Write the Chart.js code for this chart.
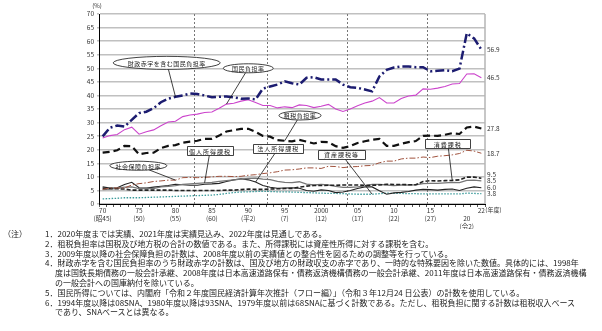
<!DOCTYPE html>
<html lang="ja">
<head>
  <meta charset="UTF-8">
  <title>国民負担率の推移</title>
  <script src="https://cdn.jsdelivr.net/npm/chart.js"></script>
  <style>
    body { margin: 0; background: #fff; width: 602px; height: 331px; position: relative; overflow: hidden;
           font-family: "Noto Sans CJK JP", sans-serif; }
    #burden { position: absolute; left: 0; top: 0; }
    .note { position: absolute; font-size: 8px; line-height: 10px; color: #222; white-space: nowrap; }
  </style>
</head>
<body>
  <canvas id="burden" width="602" height="229"></canvas>

  <div class="note" style="left:3px;top:229px">（注）</div>
  <div class="note" style="left:45px;top:229px">1．2020年度までは実績、2021年度は実績見込み、2022年度は見通しである。</div>
  <div class="note" style="left:45px;top:239px">2．租税負担率は国税及び地方税の合計の数値である。また、所得課税には資産性所得に対する課税を含む。</div>
  <div class="note" style="left:45px;top:248.6px">3．2009年度以降の社会保障負担の計数は、2008年度以前の実績値との整合性を図るための調整等を行っている。</div>
  <div class="note" style="left:45px;top:258.4px">4．財政赤字を含む国民負担率のうち財政赤字の計数は、国及び地方の財政収支の赤字であり、一時的な特殊要因を除いた数値。具体的には、1998年</div>
  <div class="note" style="left:55px;top:268px">度は国鉄長期債務の一般会計承継、2008年度は日本高速道路保有・債務返済機構債務の一般会計承継、2011年度は日本高速道路保有・債務返済機構</div>
  <div class="note" style="left:55px;top:278px">の一般会計への国庫納付を除いている。</div>
  <div class="note" style="left:45px;top:287.8px">5．国民所得については、内閣府「令和２年度国民経済計算年次推計（フロー編）」（令和３年12月24 日公表）の計数を使用している。</div>
  <div class="note" style="left:45px;top:297.6px">6．1994年度以降は08SNA、1980年度以降は93SNA、1979年度以前は68SNAに基づく計数である。ただし、租税負担に関する計数は租税収入ベース</div>
  <div class="note" style="left:55px;top:307.4px">であり、SNAベースとは異なる。</div>

  <script>
    // fiscal years on the category axis
    const years = [1970, 1971, 1972, 1973, 1974, 1975, 1976, 1977, 1978, 1979,
                   1980, 1981, 1982, 1983, 1984, 1985, 1986, 1987, 1988, 1989,
                   1990, 1991, 1992, 1993, 1994, 1995, 1996, 1997, 1998, 1999,
                   2000, 2001, 2002, 2003, 2004, 2005, 2006, 2007, 2008, 2009,
                   2010, 2011, 2012, 2013, 2014, 2015, 2016, 2017, 2018, 2019,
                   2020, 2021, 2022];

    // labelled years: short year on top, Japanese era below
    const tickYears = [1970, 1975, 1980, 1985, 1990, 1995, 2000, 2005, 2010, 2015, 2020, 2022];
    const tickNames = ['70', '75', '80', '85', '90', '95', '2000', '05', '10', '15', '20', '22'];
    const eraNames  = ['(昭45)', '(50)', '(55)', '(60)', '(平2)', '(7)', '(12)', '(17)', '(22)', '(27)', '(令2)', ''];

    // dotted dividers drawn at the start of these years
    const dividerYears = [1983, 1993, 2004, 2015];

    // ratios to national income (%)
    const burdenWithDeficit = [24.9, 28.1, 28.9, 28.5, 31.0, 33.5, 34.0, 35.3, 37.5, 38.8,
                               39.5, 40.0, 40.7, 40.5, 40.0, 39.3, 39.5, 39.6, 39.3, 38.8,
                               38.9, 38.5, 42.5, 43.3, 44.0, 45.2, 44.5, 44.0, 46.5, 46.7,
                               45.9, 45.9, 45.9, 44.0, 43.0, 42.8, 42.2, 41.5, 47.0, 49.4,
                               50.3, 50.7, 50.7, 50.4, 50.4, 48.9, 49.1, 49.3, 48.9, 49.9,
                               62.9, 61.0, 56.9];
    const nationalBurden = [24.3, 25.2, 25.6, 27.4, 28.3, 25.7, 26.6, 27.3, 28.8, 30.2,
                            30.5, 32.2, 32.8, 33.1, 33.7, 33.9, 35.3, 36.8, 37.1, 37.9,
                            38.4, 37.4, 36.3, 36.3, 35.4, 35.8, 35.5, 36.5, 36.3, 35.5,
                            36.0, 36.7, 35.0, 34.1, 35.0, 36.2, 37.2, 37.9, 39.2, 37.2,
                            37.2, 38.9, 39.8, 40.1, 42.4, 42.3, 42.7, 43.3, 44.2, 44.4,
                            47.9, 48.0, 46.5];
    const taxBurden = [18.9, 19.2, 19.8, 21.4, 21.3, 18.3, 18.8, 18.9, 20.6, 21.4,
                       21.7, 22.6, 23.0, 23.3, 24.0, 24.0, 25.2, 26.7, 27.2, 27.7,
                       27.7, 26.6, 25.1, 24.8, 23.5, 23.3, 23.1, 23.6, 23.0, 22.3,
                       22.9, 22.8, 21.3, 20.7, 21.3, 22.5, 23.1, 23.7, 24.0, 21.4,
                       21.4, 22.2, 22.8, 23.2, 25.1, 25.2, 25.1, 25.5, 26.1, 25.8,
                       28.2, 28.5, 27.8];
    const socialBurden = [5.4, 5.9, 5.9, 5.9, 7.0, 7.5, 7.8, 8.3, 8.5, 8.8,
                          8.8, 9.7, 9.8, 9.7, 9.8, 10.0, 10.2, 10.2, 10.1, 10.2,
                          10.6, 10.8, 11.2, 11.5, 11.9, 12.5, 12.6, 12.9, 13.3, 13.3,
                          13.1, 13.9, 13.8, 13.4, 13.7, 13.8, 14.1, 14.2, 15.2, 15.8,
                          15.8, 16.6, 16.9, 16.9, 17.3, 17.1, 17.6, 17.8, 18.1, 18.6,
                          19.8, 19.5, 18.7];
    const personalIncomeTax = [5.3, 5.5, 5.8, 6.2, 6.3, 5.7, 5.8, 5.7, 6.3, 6.5,
                               6.8, 7.2, 7.4, 7.6, 7.8, 8.0, 8.3, 8.6, 8.9, 9.2,
                               9.4, 9.5, 9.2, 9.0, 8.3, 8.0, 7.9, 8.2, 7.3, 7.0,
                               7.2, 7.0, 6.5, 6.1, 6.1, 6.3, 6.6, 7.2, 7.2, 7.0,
                               6.8, 7.0, 7.0, 7.1, 7.5, 7.6, 7.6, 7.8, 8.0, 7.9,
                               8.7, 8.8, 8.5];
    const corporateIncomeTax = [6.3, 5.9, 6.0, 7.2, 8.0, 6.0, 5.9, 6.2, 6.5, 6.8,
                                7.3, 7.1, 6.9, 6.9, 7.3, 7.4, 7.6, 8.3, 8.9, 9.3,
                                8.9, 8.1, 6.8, 6.2, 5.8, 5.9, 6.0, 5.8, 5.0, 4.7,
                                5.2, 5.0, 4.2, 4.4, 5.0, 5.7, 6.3, 6.3, 4.9, 3.6,
                                4.1, 4.3, 4.6, 5.1, 5.4, 5.3, 5.1, 5.4, 5.5, 5.0,
                                5.8, 6.3, 6.0];
    const consumptionTax = [5.8, 5.7, 5.6, 5.5, 5.1, 5.1, 5.1, 5.1, 5.1, 5.1,
                            5.0, 5.0, 5.0, 5.0, 5.0, 5.0, 5.0, 5.1, 5.1, 5.3,
                            5.5, 5.4, 5.4, 5.5, 5.6, 5.7, 5.7, 6.2, 6.6, 6.8,
                            6.8, 6.9, 6.9, 7.0, 7.0, 7.0, 6.9, 6.9, 7.0, 7.3,
                            7.2, 7.2, 7.1, 7.1, 8.3, 8.6, 8.5, 8.6, 8.7, 8.9,
                            9.9, 9.9, 9.5];
    const assetTax = [1.9, 2.0, 2.1, 2.3, 2.3, 2.3, 2.4, 2.5, 2.6, 2.7,
                      2.8, 2.9, 3.0, 3.1, 3.2, 3.3, 3.5, 3.9, 4.2, 4.4,
                      4.5, 4.6, 4.7, 4.6, 4.5, 4.5, 4.4, 4.3, 4.2, 4.1,
                      4.0, 3.9, 3.9, 3.8, 3.7, 3.6, 3.6, 3.6, 3.8, 4.0,
                      3.9, 3.9, 3.8, 3.8, 3.7, 3.7, 3.7, 3.7, 3.7, 3.7,
                      4.0, 3.9, 3.8];

    const FONT = '"Noto Sans CJK JP", "Noto Sans", sans-serif';

    function line(label, data, color, width, dash) {
      return {
        label, data,
        borderColor: color, backgroundColor: color,
        borderWidth: width, borderDash: dash,
        pointRadius: 0, tension: 0, fill: false
      };
    }

    const datasets = [
      line('財政赤字を含む国民負担率', burdenWithDeficit, '#1c1c70', 2.5, [9, 3, 2, 3]),
      line('国民負担率', nationalBurden, '#cc44cc', 1.1, []),
      line('租税負担率', taxBurden, '#111', 2.2, [7, 4]),
      line('社会保障負担率', socialBurden, '#a0523d', 1, [6, 2, 1.5, 2]),
      line('消費課税', consumptionTax, '#222', 1.6, [4, 2]),
      line('個人所得課税', personalIncomeTax, '#777', 1.3, []),
      line('法人所得課税', corporateIncomeTax, '#222', 1.1, []),
      line('資産課税等', assetTax, '#3a9a9a', 1.3, [1.5, 1.5])
    ];

    // callout labels: box centre given in (year, %) and pointer to a year on its series
    const callouts = [
      { text: '財政赤字を含む国民負担率', series: '財政赤字を含む国民負担率', year: 1980, at: [1978.8, 52.0], w: 107, h: 13, shape: 'ellipse' },
      { text: '国民負担率', series: '国民負担率', year: 1987, at: [1990.0, 50.0], w: 50, h: 9, shape: 'ellipse' },
      { text: '租税負担率', series: '租税負担率', year: 1995, at: [1997.1, 32.6], w: 42, h: 9, shape: 'ellipse' },
      { text: '社会保障負担率', series: '社会保障負担率', year: 1980, at: [1974.9, 14.1], w: 57, h: 9, shape: 'ellipse' },
      { text: '個人所得課税', series: '個人所得課税', year: 1984, at: [1984.75, 19.6], w: 46, h: 9, shape: 'rect' },
      { text: '法人所得課税', series: '法人所得課税', year: 1991, at: [1994.1, 20.4], w: 50, h: 9, shape: 'rect' },
      { text: '資産課税等', series: '資産課税等', year: 2007, at: [2002.8, 18.3], w: 47, h: 9, shape: 'rect' },
      { text: '消費課税', series: '消費課税', year: 2018, at: [2017.4, 22.2], w: 45, h: 9, shape: 'rect' }
    ];

    // small vertical nudges for end-of-line value labels that would overlap
    const endNudge = { '消費課税': -3.5 };

    const decor = {
      id: 'decor',
      beforeDatasetsDraw(chart) {
        const { ctx, chartArea: a, scales: { x } } = chart;
        ctx.save();
        ctx.strokeStyle = '#777';
        ctx.lineWidth = 1;
        ctx.setLineDash([2, 2]);
        dividerYears.forEach(yr => {
          const i = years.indexOf(yr);
          const px = Math.round((x.getPixelForValue(i - 1) + x.getPixelForValue(i)) / 2) + 0.5;
          ctx.beginPath();
          ctx.moveTo(px, a.top);
          ctx.lineTo(px, a.bottom);
          ctx.stroke();
        });
        ctx.setLineDash([]);
        ctx.strokeStyle = '#b5b5b5';
        ctx.lineWidth = 1.5;
        ctx.beginPath();
        ctx.moveTo(a.right, a.top);
        ctx.lineTo(a.right, a.bottom);
        ctx.stroke();
        ctx.restore();
      },
      afterDatasetsDraw(chart) {
        const { ctx, chartArea: a, scales: { x, y } } = chart;
        ctx.save();

        // unit and axis captions
        ctx.fillStyle = '#333';
        ctx.font = '6px ' + FONT;
        ctx.textAlign = 'center';
        ctx.textBaseline = 'middle';
        ctx.fillText('(%)', a.left - 2, 6);
        ctx.textAlign = 'left';
        ctx.fillText('(年度)', x.getPixelForValue(years.length - 1) + 4, a.bottom + 6);

        // value at the last year, right of the plot
        ctx.font = '6.5px ' + FONT;
        chart.data.datasets.forEach(ds => {
          const v = ds.data[ds.data.length - 1];
          ctx.fillText(v.toFixed(1), a.right + 2, y.getPixelForValue(v) + (endNudge[ds.label] || 0));
        });

        // callouts
        callouts.forEach(c => {
          const ds = chart.data.datasets.find(d => d.label === c.series);
          const i = years.indexOf(c.year);
          const tx = x.getPixelForValue(i);
          const ty = y.getPixelForValue(ds.data[i]);
          const cx = x.getPixelForValue(c.at[0] - years[0]);
          const cy = y.getPixelForValue(c.at[1]);
          const rx = c.w / 2, ry = c.h / 2;
          const dx = tx - cx, dy = ty - cy;
          let t;
          if (c.shape === 'ellipse') {
            t = 1 / Math.sqrt((dx / rx) ** 2 + (dy / ry) ** 2);
          } else {
            t = Math.min(rx / Math.abs(dx || 1e-6), ry / Math.abs(dy || 1e-6));
          }
          ctx.strokeStyle = '#111';
          ctx.lineWidth = 0.8;
          ctx.beginPath();
          ctx.moveTo(cx + dx * t, cy + dy * t);
          ctx.lineTo(tx, ty);
          ctx.stroke();

          ctx.beginPath();
          if (c.shape === 'ellipse') {
            ctx.ellipse(cx, cy, rx, ry, 0, 0, Math.PI * 2);
          } else {
            ctx.rect(Math.round(cx - rx) + 0.5, Math.round(cy - ry) + 0.5, c.w, c.h);
          }
          ctx.fillStyle = '#fff';
          ctx.fill();
          ctx.stroke();

          ctx.fillStyle = '#222';
          ctx.font = '6px ' + FONT;
          ctx.letterSpacing = c.shape === 'rect' ? '1px' : '0.5px';
          ctx.textAlign = 'center';
          ctx.fillText(c.text, cx, cy + 0.5);
          ctx.letterSpacing = '0px';
        });
        ctx.restore();
      }
    };

    new Chart(document.getElementById('burden'), {
      type: 'line',
      data: { labels: years, datasets },
      options: {
        responsive: false,
        animation: false,
        layout: { padding: { left: 79, right: 117, top: 14, bottom: 0 } },
        plugins: { legend: { display: false }, tooltip: { enabled: false } },
        scales: {
          x: {
            offset: true,
            afterFit(scale) { scale.height = 25; },
            grid: { display: true, drawOnChartArea: false, drawTicks: true, tickLength: 3, color: '#555', offset: true },
            border: { display: true, color: '#000', width: 1 },
            ticks: {
              autoSkip: false, maxRotation: 0, padding: 0,
              color: '#333', font: { size: 6.5, family: FONT }, lineHeight: 1.2,
              callback(value, index) {
                const k = tickYears.indexOf(years[index]);
                if (k < 0) return '';
                if (years[index] === 2020) return ['', tickNames[k], eraNames[k]];
                return eraNames[k] ? [tickNames[k], eraNames[k]] : tickNames[k];
              }
            }
          },
          y: {
            min: 0, max: 70,
            afterFit(scale) { scale.width = 20; },
            grid: { color: '#c0c0c0', lineWidth: 1.5, drawTicks: true, tickLength: 2 },
            border: { display: true, color: '#000', width: 1 },
            ticks: { stepSize: 5, padding: 3, color: '#333', font: { size: 6.5, family: FONT } }
          }
        }
      },
      plugins: [decor]
    });
  </script>
</body>
</html>
